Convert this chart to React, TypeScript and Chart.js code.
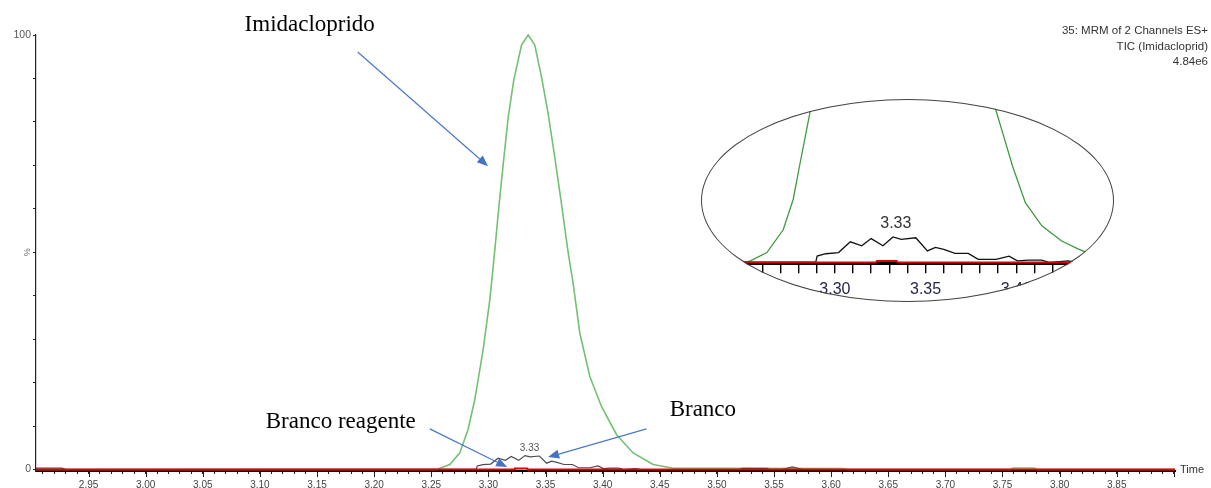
import React, { useEffect, useRef } from "react";
import { Chart, registerables } from "chart.js";

Chart.register(...registerables);

// ---- Main chromatogram data (time in min, intensity in %) ----
const imidaTime = [2.904, 3.2546, 3.2662, 3.275, 3.2822, 3.2881, 3.2954, 3.3012, 3.3056, 3.3094, 3.3129, 3.3173, 3.3222, 3.329, 3.3348, 3.3406, 3.3465, 3.3523, 3.3581, 3.364, 3.3695, 3.3742, 3.38, 3.3888, 3.399, 3.4122, 3.4267, 3.4442, 3.4617, 3.5, 3.61, 3.615, 3.757, 3.759, 3.778, 3.78, 3.901];
const imidaPct = [0, 0, 1.15, 3.83, 9.2, 16.1, 27.6, 39.0, 50.5, 61.1, 70.1, 81.0, 89.6, 97.7, 100, 97.7, 90.3, 81.9, 71.9, 61.1, 50.5, 42.8, 31.4, 21.4, 14.5, 8.0, 3.8, 1.15, 0.3, 0.25, 0.2, 0, 0, 0.35, 0.35, 0, 0];

const brancoTime = [2.904, 2.927, 2.93, 3.2895, 3.2902, 3.295, 3.302, 3.3085, 3.3148, 3.32, 3.3265, 3.332, 3.3365, 3.3446, 3.351, 3.3554, 3.36, 3.3662, 3.3735, 3.379, 3.3888, 3.396, 3.4006, 3.4067, 3.414, 3.4186, 3.4285, 3.434, 3.52, 3.522, 3.544, 3.546, 3.557, 3.566, 3.575, 3.901];
const brancoPct = [0.3, 0.3, 0, 0.07, 0.8, 1.1, 1.25, 2.6, 2.1, 3.0, 2.1, 3.2, 2.9, 3.1, 1.45, 1.9, 1.65, 1.15, 1.15, 0.4, 0.4, 0.8, 0.2, 0.3, 0.3, 0, 0.2, 0, 0, 0.25, 0.25, 0, 0, 0.6, 0, 0];

const reagenteTime = [2.904, 3.3226, 3.3232, 3.334, 3.3346, 3.901];
const reagentePct = [0, 0, 0.2, 0.2, 0, 0];

// ---- Inset (zoomed view) green trace ----
const insetImidaTime = [3.2269, 3.25, 3.2534, 3.2625, 3.2715, 3.277, 3.2805, 3.286, 3.292, 3.3, 3.334, 3.37, 3.382, 3.3879, 3.3925, 3.3979, 3.405, 3.4141, 3.425, 3.434, 3.4457, 3.4506];
const insetImidaPct = [0, 0, 0.2, 1.25, 4.1, 7.9, 12.1, 18.5, 28, 40, 100, 45, 27, 19.75, 16.25, 12.1, 7.5, 4.6, 2.7, 1.7, 0.6, 0.3];

// ---- Tick values ----
const mainXTicks = Array.from({ length: 100 }, (_, i) => (291 + i) / 100);
const mainYTicks = [0, 10, 20, 30, 40, 50, 60, 70, 80, 90, 100];
const insetXTicks = Array.from({ length: 23 }, (_, i) => (323 + i) / 100);

const headerLines = ["35: MRM of 2 Channels ES+", "TIC (Imidacloprid)", "4.84e6"];

const zip = (xs: number[], ys: number[]) => xs.map((x, i) => ({ x, y: ys[i] }));
const isMajor = (v: number) => Math.round(v * 100) % 5 === 0;

function drawArrow(ctx: CanvasRenderingContext2D, x0: number, y0: number, x1: number, y1: number) {
  const ang = Math.atan2(y1 - y0, x1 - x0);
  const hl = 11, hw = 4.5;
  const bx = x1 - hl * Math.cos(ang), by = y1 - hl * Math.sin(ang);
  ctx.strokeStyle = "#4a78c8";
  ctx.fillStyle = "#4472c4";
  ctx.lineWidth = 1.2;
  ctx.beginPath();
  ctx.moveTo(x0, y0);
  ctx.lineTo(bx, by);
  ctx.stroke();
  ctx.beginPath();
  ctx.moveTo(x1, y1);
  ctx.lineTo(bx + hw * Math.sin(ang), by - hw * Math.cos(ang));
  ctx.lineTo(bx - hw * Math.sin(ang), by + hw * Math.cos(ang));
  ctx.closePath();
  ctx.fill();
}

const mainPlugin = {
  id: "mainAnnot",
  afterDraw(chart: any) {
    const { ctx, scales } = chart;
    const x = scales.x, y = scales.y;
    const px = (t: number) => x.getPixelForValue(t);
    const py = (v: number) => y.getPixelForValue(v);
    ctx.save();
    // major tick extension
    ctx.strokeStyle = "#222";
    ctx.lineWidth = 1;
    mainXTicks.forEach((t) => {
      if (isMajor(t)) {
        const xx = Math.round(px(t)) + 0.5;
        ctx.beginPath();
        ctx.moveTo(xx, chart.chartArea.bottom + 1);
        ctx.lineTo(xx, chart.chartArea.bottom + 6);
        ctx.stroke();
      }
    });
    // % label rotated
    ctx.fillStyle = "#666";
    ctx.font = '9px "Liberation Sans"';
    ctx.textAlign = "center";
    ctx.textBaseline = "middle";
    ctx.save();
    ctx.translate(28, py(50));
    ctx.rotate(-Math.PI / 2);
    ctx.fillText("%", 0, 0);
    ctx.restore();
    // Time label
    ctx.fillStyle = "#333";
    ctx.font = '11px "Liberation Sans"';
    ctx.textAlign = "left";
    ctx.fillText("Time", chart.chartArea.right + 5, py(0));
    // header
    ctx.textAlign = "right";
    ctx.font = '11.5px "Liberation Sans"';
    headerLines.forEach((s, i) => ctx.fillText(s, chart.width - 3, 31 + i * 15.5));
    // peak label
    ctx.textAlign = "center";
    ctx.fillStyle = "#555";
    ctx.font = '10px "Liberation Sans"';
    ctx.fillText("3.33", px(3.336), py(4.9));
    // annotation texts
    ctx.fillStyle = "#000";
    ctx.font = '23px "Liberation Serif"';
    ctx.fillText("Imidacloprido", px(3.1436), py(102.2));
    ctx.fillText("Branco reagente", px(3.1708), py(10.9));
    ctx.fillText("Branco", px(3.4877), py(13.6));
    // arrows
    drawArrow(ctx, px(3.1856), py(96.1), px(3.2997), py(69.8));
    drawArrow(ctx, px(3.2487), py(9.34), px(3.3164), py(0.55));
    drawArrow(ctx, px(3.4384), py(9.34), px(3.3523), py(2.85));
    ctx.restore();
  },
};

const insetPlugin = {
  id: "insetAnnot",
  afterDraw(chart: any) {
    const { ctx, scales } = chart;
    ctx.save();
    ctx.fillStyle = "#333";
    ctx.font = '16px "Liberation Sans"';
    ctx.textAlign = "center";
    ctx.textBaseline = "middle";
    ctx.fillText("3.33", scales.x.getPixelForValue(3.3336), scales.y.getPixelForValue(4.9));
    ctx.restore();
  },
};

export default function App() {
  const mainRef = useRef<HTMLCanvasElement>(null);
  const insetRef = useRef<HTMLCanvasElement>(null);

  useEffect(() => {
    const main = new Chart(mainRef.current as HTMLCanvasElement, {
      type: "line",
      data: {
        datasets: [
          { data: zip(reagenteTime, reagentePct), borderColor: "#e00000", borderWidth: 2, pointRadius: 0, clip: 4 } as any,
          { data: zip(brancoTime, brancoPct), borderColor: "#4d4d4d", borderWidth: 1.2, pointRadius: 0, clip: 4 } as any,
          { data: zip(imidaTime, imidaPct), borderColor: "#72c272", borderWidth: 1.6, pointRadius: 0, clip: 4 } as any,
        ],
      },
      options: {
        animation: false,
        responsive: false,
        maintainAspectRatio: false,
        layout: { padding: { top: 35, right: 36, left: 0, bottom: 0 } },
        plugins: { legend: { display: false }, tooltip: { enabled: false } },
        scales: {
          x: {
            type: "linear",
            min: 2.904,
            max: 3.901,
            afterBuildTicks: (s: any) => { s.ticks = mainXTicks.map((v) => ({ value: v })); },
            afterFit: (s: any) => { s.height = 17; },
            grid: { drawOnChartArea: false, drawTicks: true, tickLength: 3, color: "#222", lineWidth: 1 },
            border: { display: true, color: "#000", width: 2 },
            ticks: {
              autoSkip: false,
              maxRotation: 0,
              padding: 5,
              color: "#444",
              font: { family: "Liberation Sans", size: 10 },
              callback: (v: any) => (isMajor(v) && Math.round(v * 100) < 390 ? Number(v).toFixed(2) : ""),
            },
          },
          y: {
            min: -0.35,
            max: 100,
            afterBuildTicks: (s: any) => { s.ticks = mainYTicks.map((v) => ({ value: v })); },
            afterFit: (s: any) => { s.width = 36; },
            grid: { drawOnChartArea: false, drawTicks: true, tickLength: 3, color: "#222", lineWidth: 1 },
            border: { display: true, color: "#222", width: 1.2 },
            ticks: {
              autoSkip: false,
              padding: 2,
              color: "#555",
              font: { family: "Liberation Sans", size: 10.5 },
              callback: (v: any) => (v === 100 ? "100" : v === 0 ? "0" : ""),
            },
          },
        },
      } as any,
      plugins: [mainPlugin],
    });

    const inset = new Chart(insetRef.current as HTMLCanvasElement, {
      type: "line",
      data: {
        datasets: [
          { data: zip(reagenteTime, reagentePct), borderColor: "#e00000", borderWidth: 2, pointRadius: 0 } as any,
          { data: zip(brancoTime, brancoPct), borderColor: "#111", borderWidth: 1.3, pointRadius: 0 } as any,
          { data: zip(insetImidaTime, insetImidaPct), borderColor: "#3d9b3d", borderWidth: 1.3, pointRadius: 0 } as any,
        ],
      },
      options: {
        animation: false,
        responsive: false,
        maintainAspectRatio: false,
        layout: { padding: 0 },
        plugins: { legend: { display: false }, tooltip: { enabled: false } },
        scales: {
          x: {
            type: "linear",
            min: 3.2269,
            max: 3.4506,
            afterBuildTicks: (s: any) => { s.ticks = insetXTicks.map((v) => ({ value: v })); },
            afterFit: (s: any) => { s.height = 38.7; },
            grid: { drawOnChartArea: false, drawTicks: true, tickLength: 10, color: "#000", lineWidth: 1.4 },
            border: { display: true, color: "#000", width: 3 },
            ticks: {
              autoSkip: false,
              maxRotation: 0,
              padding: 7,
              color: "#26264a",
              font: { family: "Liberation Sans", size: 16 },
              callback: (v: any) => (isMajor(v) && Math.round(v * 100) < 345 ? Number(v).toFixed(2) : ""),
            },
          },
          y: { display: false, min: -0.1, max: 20.5 },
        },
      } as any,
      plugins: [insetPlugin],
    });

    return () => {
      main.destroy();
      inset.destroy();
    };
  }, []);

  return (
    <div style={{ position: "absolute", left: 0, top: 0, width: 1211, height: 488, background: "#fff" }}>
      <canvas ref={mainRef} width={1211} height={488} style={{ position: "absolute", left: 0, top: 0 }} />
      <div
        style={{
          position: "absolute",
          left: 701,
          top: 99,
          width: 413,
          height: 203,
          borderRadius: "50%",
          overflow: "hidden",
          background: "#fff",
        }}
      >
        <canvas ref={insetRef} width={413} height={203} style={{ display: "block" }} />
      </div>
      <div
        style={{
          position: "absolute",
          left: 701,
          top: 99,
          width: 413,
          height: 203,
          borderRadius: "50%",
          border: "1.3px solid #444",
          boxSizing: "border-box",
          pointerEvents: "none",
        }}
      />
    </div>
  );
}
